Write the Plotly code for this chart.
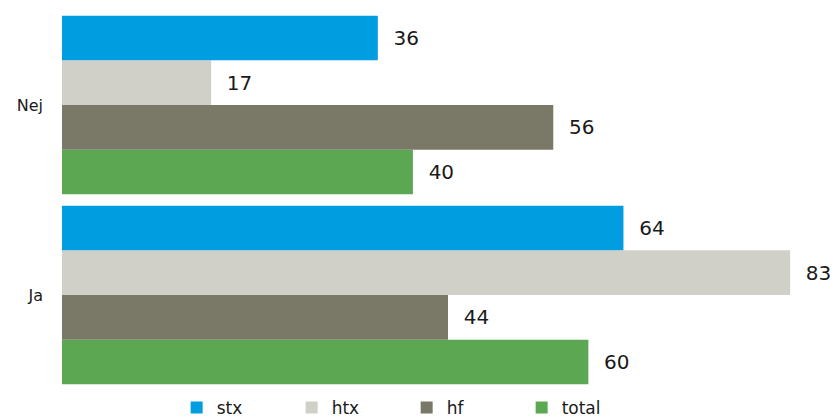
import plotly.graph_objects as go

categories = ["Ja", "Nej"]
series_names = ["stx", "htx", "hf", "total"]
stx = [64, 36]
htx = [83, 17]
hf = [44, 56]
total = [60, 40]
colors = {"stx": "#009EE0", "htx": "#D0D0C8", "hf": "#7A7866", "total": "#5CA751"}

values = {"stx": stx, "htx": htx, "hf": hf, "total": total}

fig = go.Figure()
for name in reversed(series_names):
    fig.add_trace(go.Bar(
        y=categories, x=values[name], name=name, orientation="h",
        marker=dict(color=colors[name], line=dict(width=0)),
        text=values[name], texttemplate="\u00a0\u00a0%{x}",
        textposition="outside", cliponaxis=False, constraintext="none",
        textfont=dict(family="DejaVu Sans", size=20, color="#1a1a1a"),
    ))

fig.update_layout(
    width=834, height=418,
    margin=dict(l=62, r=0, t=10, b=28, autoexpand=False),
    barmode="group", bargap=0.06, bargroupgap=0,
    plot_bgcolor="white", paper_bgcolor="white",
    font=dict(family="DejaVu Sans", size=17, color="#1a1a1a"),
    xaxis=dict(range=[0, 88], visible=False),
    yaxis=dict(showgrid=False, showline=False, ticks="", ticklabelstandoff=18,
               tickfont=dict(size=16), automargin=False),
    legend=dict(orientation="h", traceorder="reversed", x=0.1485, xanchor="left",
                y=0, yanchor="top", entrywidth=70, entrywidthmode="pixels",
                font=dict(size=17), itemclick=False),
)
fig.write_html("out.html", config={"displayModeBar": False},
               post_script="document.body.style.margin='0';document.body.style.padding='0';")
